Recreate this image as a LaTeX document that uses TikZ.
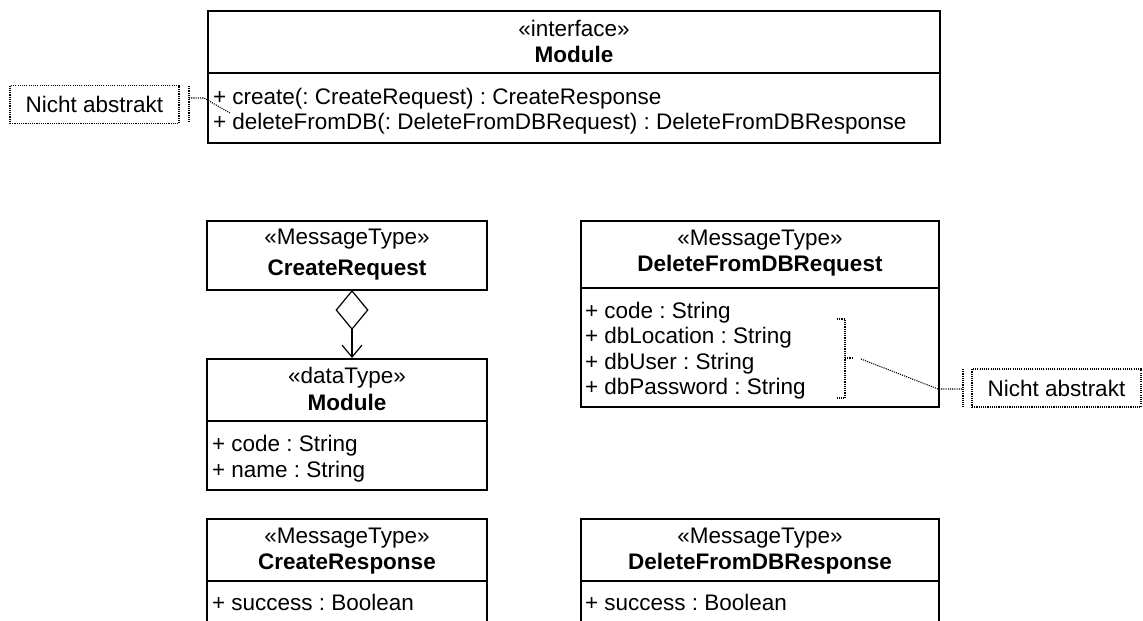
\documentclass[tikz,border=0pt]{standalone}
\usepackage{fontspec}
\setmainfont{Liberation Sans}
\usetikzlibrary{arrows.meta}
\frenchspacing
\tikzset{
  txt/.style={font=\fontsize{22.5}{25}\selectfont, inner sep=0pt, outer sep=0pt},
  bold/.style={font=\fontsize{22.5}{25}\selectfont\bfseries},
  classbox/.style={draw=black, line width=1.5pt, inner sep=0pt, outer sep=0pt, rectangle},
  divider/.style={draw=black, line width=2pt},
  notebox/.style={draw=black, line width=1.1pt, dash pattern=on 1.1pt off 1.1pt, inner sep=0pt, outer sep=0pt,
    minimum width=169pt, minimum height=38pt, font=\fontsize{22.5}{25}\selectfont},
  dotline/.style={draw=black, line width=1.1pt, dash pattern=on 1.1pt off 1.1pt},
  aggr/.style={draw=black, line width=1.2pt,
    {Diamond[open, length=40pt, width=33pt]}-{Straight Barb[length=12pt, width=20pt]}},
}
\begin{document}
\begin{tikzpicture}[x=1pt,y=-1pt]
\clip (0,0) rectangle (1143,621);
\useasboundingbox (0,0) rectangle (1143,621);

% ---------- interface Module ----------
\node[classbox, minimum width=732pt, minimum height=132pt] (iface) at (574,77) {};
\draw[divider] (iface.west |- 0,73) -- (iface.east |- 0,73);
\node[txt, anchor=base] (ifst) at (574,36) {«interface»};
\node[txt, bold, anchor=base] (ifnm) at (574,62) {Module};
\node[txt, anchor=base west] (ifm1) at (213,104) {+ create(: CreateRequest) : CreateResponse};
\node[txt, anchor=base west] (ifm2) at (213,129) {+ deleteFromDB(: DeleteFromDBRequest) : DeleteFromDBResponse};

% ---------- left note ----------
\node[notebox] (n1) at (94.5,104.5) {Nicht abstrakt};
\coordinate (n1t) at (189,86);
\coordinate (n1b) at (189,123);
\coordinate (n1a) at (189,98);
\coordinate (n1k) at (204,98);
\coordinate (n1e) at (230,113);
\draw[dotline] (n1t) -- (n1b);
\draw[dotline] (n1a) -- (n1k) -- (n1e);

% ---------- CreateRequest ----------
\node[classbox, minimum width=280pt, minimum height=69pt] (cr) at (347,255.5) {};
\node[txt, anchor=base] (crst) at (347,244) {«MessageType»};
\node[txt, bold, anchor=base] (crnm) at (347,275) {CreateRequest};

% ---------- dataType Module ----------
\node[classbox, minimum width=280pt, minimum height=131pt] (dt) at (347,424.5) {};
\draw[divider] (dt.west |- 0,421) -- (dt.east |- 0,421);
\node[txt, anchor=base] (dtst) at (347,383) {«dataType»};
\node[txt, bold, anchor=base] (dtnm) at (347,410) {Module};
\node[txt, anchor=base west] (dta1) at (212,451) {+ code : String};
\node[txt, anchor=base west] (dta2) at (212,477) {+ name : String};

% aggregation
\coordinate (agx) at (352,0);
\draw[aggr, shorten >=1pt] (cr.south -| agx) -- (dt.north -| agx);

% ---------- CreateResponse ----------
\node[classbox, minimum width=280pt, minimum height=131pt] (crs) at (347,584.5) {};
\draw[divider] (crs.west |- 0,581) -- (crs.east |- 0,581);
\node[txt, anchor=base] (crsst) at (347,543) {«MessageType»};
\node[txt, bold, anchor=base] (crsnm) at (347,569) {CreateResponse};
\node[txt, anchor=base west] (crsa1) at (212,610) {+ success : Boolean};

% ---------- DeleteFromDBRequest ----------
\node[classbox, minimum width=358pt, minimum height=186pt] (dr) at (760,314) {};
\draw[divider] (dr.west |- 0,288) -- (dr.east |- 0,288);
\node[txt, anchor=base] (drst) at (760,245) {«MessageType»};
\node[txt, bold, anchor=base] (drnm) at (760,271) {DeleteFromDBRequest};
\node[txt, anchor=base west] (dra1) at (585,318) {+ code : String};
\node[txt, anchor=base west] (dra2) at (585,343) {+ dbLocation : String};
\node[txt, anchor=base west] (dra3) at (585,369) {+ dbUser : String};
\node[txt, anchor=base west] (dra4) at (585,394) {+ dbPassword : String};

% bracket and right note
\coordinate (bt1) at (837,319);
\coordinate (bt2) at (845,319);
\coordinate (bb2) at (845,398);
\coordinate (bb1) at (837,398);
\coordinate (bm1) at (845,358);
\coordinate (bm2) at (853,358);
\draw[dotline] (bt1) -- (bt2) -- (bb2) -- (bb1);
\draw[dotline] (bm1) -- (bm2);
\node[notebox] (n2) at (1056.5,388) {Nicht abstrakt};
\coordinate (n2t) at (963,369);
\coordinate (n2b) at (963,407);
\coordinate (n2a) at (963,389);
\coordinate (n2k) at (938,389);
\coordinate (bm3) at (861,359);
\draw[dotline] (n2t) -- (n2b);
\draw[dotline] (bm3) -- (n2k) -- (n2a);

% ---------- DeleteFromDBResponse ----------
\node[classbox, minimum width=358pt, minimum height=131pt] (drs) at (760,584.5) {};
\draw[divider] (drs.west |- 0,581) -- (drs.east |- 0,581);
\node[txt, anchor=base] (drsst) at (760,543) {«MessageType»};
\node[txt, bold, anchor=base] (drsnm) at (760,569) {DeleteFromDBResponse};
\node[txt, anchor=base west] (drsa1) at (585,610) {+ success : Boolean};
\end{tikzpicture}
\end{document}
